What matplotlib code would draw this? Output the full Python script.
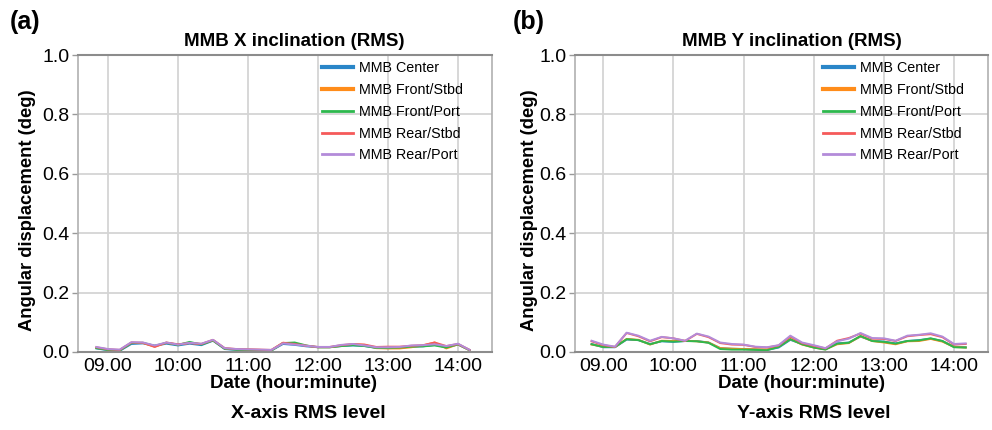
import matplotlib
matplotlib.use("Agg")
import matplotlib.pyplot as plt
from matplotlib.lines import Line2D

plt.rcParams['font.family'] = ['Liberation Sans', 'DejaVu Sans']

times = ["08:50", "09:00", "09:10", "09:20", "09:30", "09:40", "09:50", "10:00", "10:10",
         "10:20", "10:30", "10:40", "10:50", "11:00", "11:10", "11:20", "11:30", "11:40",
         "11:50", "12:00", "12:10", "12:20", "12:30", "12:40", "12:50", "13:00", "13:10",
         "13:20", "13:30", "13:40", "13:50", "14:00", "14:10"]

series_names = ["MMB Center", "MMB Front/Stbd", "MMB Front/Port", "MMB Rear/Stbd", "MMB Rear/Port"]

# X inclination (RMS)
x_center = [0.012, 0.006, 0.004, 0.027, 0.029, 0.021, 0.028, 0.022, 0.028, 0.023, 0.038, 0.010, 0.007,
            0.006, 0.005, 0.005, 0.027, 0.024, 0.019, 0.016, 0.016, 0.020, 0.022, 0.020, 0.014, 0.013,
            0.014, 0.018, 0.019, 0.024, 0.016, 0.025, 0.006]
x_front_stbd = [0.014, 0.008, 0.006, 0.031, 0.030, 0.018, 0.031, 0.025, 0.031, 0.027, 0.039, 0.012, 0.009,
                0.008, 0.007, 0.006, 0.031, 0.029, 0.021, 0.016, 0.016, 0.021, 0.026, 0.024, 0.013, 0.012,
                0.012, 0.016, 0.022, 0.032, 0.012, 0.026, 0.006]
x_front_port = [0.013, 0.007, 0.005, 0.030, 0.031, 0.021, 0.031, 0.024, 0.034, 0.025, 0.039, 0.011, 0.008,
                0.007, 0.006, 0.005, 0.030, 0.032, 0.022, 0.016, 0.016, 0.020, 0.023, 0.020, 0.014, 0.014,
                0.015, 0.018, 0.019, 0.022, 0.015, 0.026, 0.006]
x_rear_stbd = [0.016, 0.009, 0.007, 0.032, 0.031, 0.017, 0.032, 0.026, 0.030, 0.027, 0.041, 0.013, 0.010,
               0.009, 0.008, 0.007, 0.031, 0.027, 0.021, 0.017, 0.017, 0.023, 0.027, 0.025, 0.017, 0.018,
               0.018, 0.021, 0.023, 0.032, 0.020, 0.027, 0.007]
x_rear_port = [0.017, 0.010, 0.008, 0.033, 0.032, 0.022, 0.032, 0.025, 0.031, 0.028, 0.041, 0.013, 0.010,
               0.009, 0.008, 0.007, 0.029, 0.025, 0.021, 0.017, 0.017, 0.024, 0.027, 0.022, 0.016, 0.016,
               0.017, 0.022, 0.023, 0.026, 0.020, 0.028, 0.007]

# Y inclination (RMS)
y_center = [0.027, 0.016, 0.016, 0.042, 0.040, 0.027, 0.036, 0.034, 0.037, 0.037, 0.032, 0.013, 0.011,
            0.010, 0.009, 0.007, 0.015, 0.041, 0.027, 0.016, 0.010, 0.029, 0.032, 0.052, 0.038, 0.035,
            0.029, 0.037, 0.040, 0.045, 0.037, 0.018, 0.016]
y_front_stbd = [0.025, 0.018, 0.017, 0.044, 0.041, 0.025, 0.038, 0.037, 0.038, 0.036, 0.032, 0.013, 0.011,
                0.010, 0.009, 0.008, 0.018, 0.044, 0.025, 0.015, 0.009, 0.026, 0.030, 0.053, 0.037, 0.032,
                0.026, 0.036, 0.037, 0.044, 0.035, 0.017, 0.015]
y_front_port = [0.026, 0.017, 0.017, 0.043, 0.040, 0.026, 0.037, 0.035, 0.037, 0.036, 0.031, 0.010, 0.008,
                0.008, 0.007, 0.006, 0.017, 0.043, 0.026, 0.015, 0.008, 0.028, 0.031, 0.054, 0.037, 0.034,
                0.028, 0.037, 0.039, 0.046, 0.037, 0.016, 0.015]
y_rear_stbd = [0.036, 0.023, 0.017, 0.064, 0.053, 0.036, 0.050, 0.046, 0.037, 0.061, 0.050, 0.030, 0.025,
               0.024, 0.017, 0.015, 0.022, 0.052, 0.030, 0.021, 0.012, 0.038, 0.047, 0.062, 0.045, 0.044,
               0.037, 0.053, 0.057, 0.060, 0.050, 0.025, 0.027]
y_rear_port = [0.038, 0.025, 0.018, 0.065, 0.055, 0.038, 0.051, 0.046, 0.038, 0.062, 0.052, 0.032, 0.027,
               0.025, 0.018, 0.016, 0.023, 0.055, 0.032, 0.023, 0.013, 0.036, 0.045, 0.064, 0.047, 0.046,
               0.038, 0.055, 0.058, 0.063, 0.052, 0.027, 0.029]

tick_hours = [9, 10, 11, 12, 13, 14]
tick_labels = ["09.00", "10:00", "11:00", "12:00", "13:00", "14:00"]
y_ticks = [0.0, 0.2, 0.4, 0.6, 0.8, 1.0]

colors = ["#2a86c8", "#ff8c1a", "#2db84d", "#f55a5a", "#b38bd9"]
legend_lw = [3.0, 3.0, 2.0, 2.0, 2.0]

def to_hours(t):
    h, m = t.split(":")
    return int(h) + int(m) / 60.0

hours = [to_hours(t) for t in times]

fig = plt.figure(figsize=(9.92, 4.30), dpi=100)
W, H = 992, 430

def make_ax(left_px, right_px, top_px, bottom_px):
    return fig.add_axes([left_px / W, 1 - bottom_px / H, (right_px - left_px) / W, (bottom_px - top_px) / H])

panels = [
    dict(ax=make_ax(78, 492, 55, 352), data=[x_center, x_front_stbd, x_front_port, x_rear_stbd, x_rear_port],
         xlim=(8.571, 14.486), title="MMB X inclination (RMS)", title_x=294, letter="(a)", letter_x=10,
         xlab_x=293, bottom="X-axis RMS level", bottom_x=308, ylab_x=28, leg_x=0.589),
    dict(ax=make_ax(575, 988, 55, 352), data=[y_center, y_front_stbd, y_front_port, y_rear_stbd, y_rear_port],
         xlim=(8.597, 14.484), title="MMB Y inclination (RMS)", title_x=792, letter="(b)", letter_x=513,
         xlab_x=801, bottom="Y-axis RMS level", bottom_x=814, ylab_x=530, leg_x=0.600),
]

for p in panels:
    ax = p["ax"]
    for vals, c in zip(p["data"], colors):
        ax.plot(hours, vals, color=c, lw=1.4, solid_joinstyle='round')
    ax.set_xlim(*p["xlim"])
    ax.set_ylim(0, 1.0)
    ax.set_xticks(tick_hours)
    ax.set_xticklabels(tick_labels)
    ax.set_yticks(y_ticks)
    ax.set_yticklabels([f"{v:.1f}" for v in y_ticks])
    ax.tick_params(axis='both', labelsize=14, colors='#999999', labelcolor='black')
    ax.tick_params(axis='y', length=4, width=1, pad=2)
    ax.tick_params(axis='x', length=0, pad=4)
    ax.grid(True, color='#d4d4d4', lw=1.3)
    ax.set_axisbelow(True)
    for s in ['top', 'bottom']:
        ax.spines[s].set_color('#8c8c8c')
        ax.spines[s].set_linewidth(1.5)
    for s in ['left', 'right']:
        ax.spines[s].set_color('#b0b0b0')
        ax.spines[s].set_linewidth(1.2)
    handles = [Line2D([], [], color=c, lw=lw) for c, lw in zip(colors, legend_lw)]
    ax.legend(handles, series_names, loc='upper left', bbox_to_anchor=(p["leg_x"], 0.980), frameon=False,
              fontsize=10.3, handlelength=2.2, handletextpad=0.4, labelspacing=0.55, borderpad=0,
              borderaxespad=0)
    fig.text(p["title_x"] / W, 1 - 42 / H, p["title"], ha='center', va='center', fontsize=13.5, fontweight='bold')
    fig.text(p["letter_x"] / W, 1 - 22 / H, p["letter"], ha='left', va='center', fontsize=18, fontweight='bold')
    fig.text(p["xlab_x"] / W, 1 - 384 / H, "Date (hour:minute)", ha='center', va='center', fontsize=13.5,
             fontweight='bold')
    fig.text(p["bottom_x"] / W, 1 - 414 / H, p["bottom"], ha='center', va='center', fontsize=14,
             fontweight='bold')
    fig.text(p["ylab_x"] / W, 1 - 210 / H, "Angular displacement (deg)", ha='center', va='center',
             rotation=90, fontsize=13.2, fontweight='bold')

fig.savefig("out.png", dpi=100)
